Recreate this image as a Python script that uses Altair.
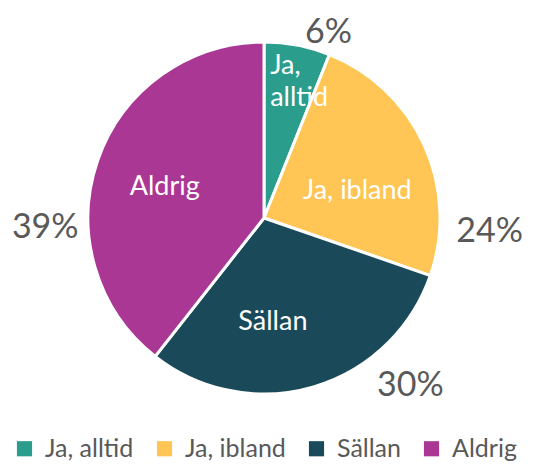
import altair as alt
import pandas as pd

categories = ["Ja, alltid", "Ja, ibland", "Sällan", "Aldrig"]
values = [6, 24, 30, 39]
pct_labels = ["6%", "24%", "30%", "39%"]
inner_labels = ["Ja,\nalltid", "Ja, ibland", "Sällan", "Aldrig"]
colors = ["#2a9d8c", "#ffc555", "#1a4a5a", "#ab3795"]

df = pd.DataFrame({
    "cat": categories,
    "val": values,
    "pct": pct_labels,
    "inner": inner_labels,
    "idx": list(range(len(categories))),
})

FONT = "Lato"
GRAY = "#595959"
CX, CY = 256, 210

base = alt.Chart(df).encode(
    x=alt.value(CX),
    y=alt.value(CY),
)

arcs = base.mark_arc(outerRadius=176, stroke="white", strokeWidth=3).encode(
    theta=alt.Theta("val:Q", stack=True),
    order=alt.Order("idx:Q"),
    color=alt.Color(
        "cat:N",
        scale=alt.Scale(domain=categories, range=colors),
        legend=alt.Legend(
            title=None,
            orient="none",
            legendX=4,
            legendY=428,
            direction="horizontal",
            symbolType="square",
            symbolSize=230,
            symbolStrokeWidth=0,
            labelFontSize=25,
            labelFont=FONT,
            labelColor=GRAY,
            columnPadding=18,
            labelOffset=8,
        ),
    ),
)

# polar angles (radians, clockwise from top) of each slice's middle
polar = base.transform_joinaggregate(
    total="sum(val)"
).transform_window(
    cum="sum(val)", sort=[alt.SortField("idx")]
).transform_calculate(
    mid="(datum.cum - datum.val / 2) / datum.total * 2 * PI"
)

inner_small = polar.transform_filter("datum.idx == 0").transform_calculate(
    ang="datum.mid - 0.15",
    r="152",
).mark_text(font=FONT, fontSize=27, color="white", lineBreak="\n", lineHeight=32, align="left").encode(
    theta=alt.Theta("ang:Q", scale=None),
    radius=alt.Radius("r:Q", scale=None),
    text="inner:N",
)

inner = polar.transform_filter("datum.idx > 0").transform_calculate(
    ang="datum.mid + (datum.idx == 1 ? 0.15 : datum.idx == 2 ? 0.20 : -0.03)",
    r="datum.idx == 1 ? 97 : 104",
).mark_text(font=FONT, fontSize=27, color="white").encode(
    theta=alt.Theta("ang:Q", scale=None),
    radius=alt.Radius("r:Q", scale=None),
    text="inner:N",
)

outer = polar.transform_calculate(
    ang="datum.mid + (datum.idx == 0 ? 0.145 : datum.idx == 1 ? 0.49 : datum.idx == 2 ? -0.43 : -0.38)",
    r="datum.idx == 0 ? 196 : datum.idx == 1 ? 226 : datum.idx == 2 ? 223 : 219",
).mark_text(font=FONT, fontSize=34, color=GRAY).encode(
    theta=alt.Theta("ang:Q", scale=None),
    radius=alt.Radius("r:Q", scale=None),
    text="pct:N",
)

chart = alt.layer(arcs, inner_small, inner, outer).resolve_scale(
    theta="independent"
).properties(
    width=520,
    height=454,
    padding=0,
    autosize=alt.AutoSizeParams(type="none"),
).configure_view(stroke=None)

chart.save("out.html", embed_options={"renderer": "svg", "actions": False})
